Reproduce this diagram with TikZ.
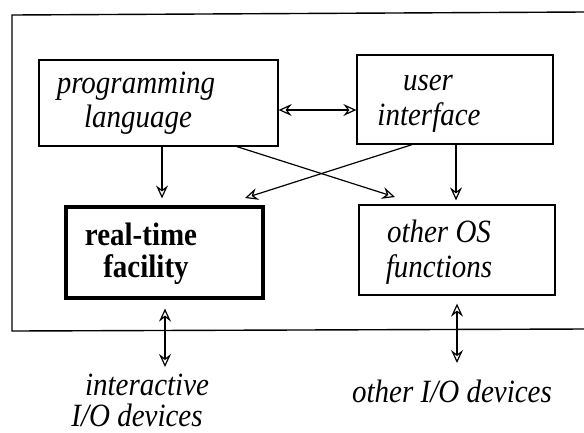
\documentclass[tikz,border=0pt]{standalone}
\usepackage{fontspec}
\setmainfont{Liberation Serif}
\usetikzlibrary{arrows.meta}
\newcommand\tallt[1]{\scalebox{1}[1.12]{#1}}
\begin{document}
\begin{tikzpicture}[x=1bp,y=-1bp,
  box/.style={draw, line width=1.3bp, minimum width=#1, inner sep=0pt},
  lbl/.style={font=\fontsize{29bp}{33bp}\selectfont\itshape, inner sep=0pt, anchor=base},
  blbl/.style={font=\fontsize{29bp}{33bp}\selectfont\bfseries, inner sep=0pt, anchor=base},
  conn/.style={line width=1.2bp, -{Stealth[open, length=13bp, width=12bp, inset=4.5bp]}},
  bconn/.style={line width=1.2bp, {Stealth[open, length=13bp, width=12bp, inset=4.5bp]}-{Stealth[open, length=13bp, width=12bp, inset=4.5bp]}},
  frame/.style={line width=1.4bp}]
\useasboundingbox (0,0) rectangle (584,432);
% outer frame (open on the right)
\draw[frame] (584,12) -- (12,15) -- (12,331) -- (584,329);
% boxes
\node[box=239bp, minimum height=86bp] (pl) at (158.5,103) {};
\node[box=196bp, minimum height=89bp] (ui) at (455,99.5) {};
\node[box=197bp, minimum height=91bp, line width=3.2bp] (rt) at (164.5,252.5) {};
\node[box=196bp, minimum height=90bp] (os) at (457,250) {};
% texts
\node[lbl] (pl1) at (136,93) {\tallt{programming}};
\node[lbl] (pl2) at (138,127) {\tallt{language}};
\node[lbl] (ui1) at (428,90) {\tallt{user}};
\node[lbl] (ui2) at (429,125) {\tallt{interface}};
\node[blbl] (rt1) at (141,245) {\tallt{real-time}};
\node[blbl] (rt2) at (146,277) {\tallt{facility}};
\node[lbl] (os1) at (439,242) {\tallt{other OS}};
\node[lbl] (os2) at (439,277) {\tallt{functions}};
\node[lbl] (io1) at (147,395) {\tallt{interactive}};
\node[lbl] (io2) at (137,426) {\tallt{I/O devices}};
\node[lbl] (io3) at (452,402) {\tallt{other I/O devices}};
% free ends
\coordinate (plos) at (395,197);
\coordinate (uirt) at (245,198);
\coordinate (ioa) at (165,367);
\coordinate (iob) at (457,363);
% connectors
\draw[bconn] (pl.east |- 0,110) -- (ui.west |- 0,110);
\draw[conn, shorten >=7bp] (pl.south -| 162,0) -- (rt.north -| 162,0);
\draw[conn, shorten >=4bp] (ui.south -| 456,0) -- (os.north -| 456,0);
\draw[conn] (pl.south -| 237,0) -- (plos);
\draw[conn] (ui.south -| 412,0) -- (uirt);
\draw[bconn, shorten <=9bp] (rt.south -| 165,0) -- (ioa);
\draw[bconn, shorten <=8bp] (os.south -| 457,0) -- (iob);
\end{tikzpicture}
\end{document}
